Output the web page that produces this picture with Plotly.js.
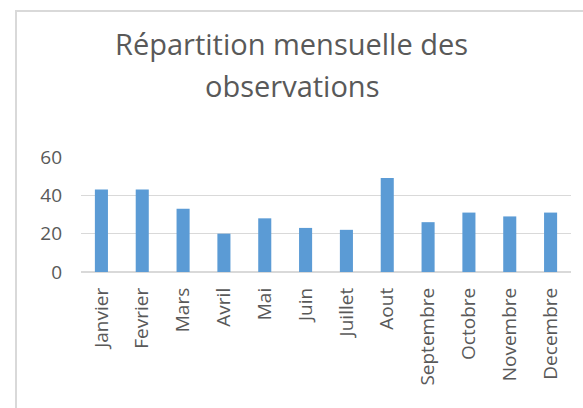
<!DOCTYPE html>
<html>
<head>
<meta charset="utf-8">
<script src="https://cdn.plot.ly/plotly-3.0.1.min.js"></script>
<style>
html,body{margin:0;padding:0;background:#fff;overflow:hidden;}
#frame{position:absolute;left:15px;top:10px;width:620px;height:440px;border:2px solid #d9d9d9;box-sizing:border-box;}
#chart{position:absolute;left:0;top:0;width:583px;height:408px;}
</style>
</head>
<body>
<div id="frame"></div>
<div id="chart"></div>
<script>
const months = ["Janvier","Fevrier","Mars","Avril","Mai","Juin","Juillet","Aout","Septembre","Octobre","Novembre","Decembre"];
const observations = [43,43,33,20,28,23,22,49,26,31,29,31];
const yTicks = [0,20,40,60];
const titleLine1 = "Répartition mensuelle des";
const titleLine2 = "observations";

const gray = "#595959";
const font = "Open Sans, Noto Sans, sans-serif";

Plotly.newPlot("chart", [{
  type: "bar",
  x: months,
  y: observations,
  marker: {color: "#5b9bd5"},
  hoverinfo: "x+y"
}], {
  width: 583, height: 408,
  margin: {l: 81, r: 12, t: 157, b: 136},
  paper_bgcolor: "rgba(0,0,0,0)",
  plot_bgcolor: "rgba(0,0,0,0)",
  bargap: 0.68,
  showlegend: false,
  font: {family: font, color: gray},
  xaxis: {
    type: "category",
    tickangle: -90,
    tickfont: {size: 19, color: gray},
    showgrid: false,
    ticks: "",
    showline: false,
    ticklabelstandoff: 11
  },
  yaxis: {
    range: [0, 60],
    tickvals: yTicks,
    tickfont: {size: 19, color: gray},
    showgrid: true,
    gridcolor: "#d9d9d9",
    gridwidth: 1.5,
    zeroline: true,
    zerolinecolor: "#d9d9d9",
    zerolinewidth: 1.5,
    showline: false,
    ticks: "",
    ticklabelstandoff: 18,
    fixedrange: true
  },
  annotations: [
    {text: titleLine1, xref: "paper", yref: "paper", x: 0.43, y: 1.983, xanchor: "center", yanchor: "middle", showarrow: false, font: {size: 29, color: gray, family: font}},
    {text: titleLine2, xref: "paper", yref: "paper", x: 0.43, y: 1.62, xanchor: "center", yanchor: "middle", showarrow: false, font: {size: 29, color: gray, family: font}}
  ]
}, {displayModeBar: false, staticPlot: true});
</script>
</body>
</html>
